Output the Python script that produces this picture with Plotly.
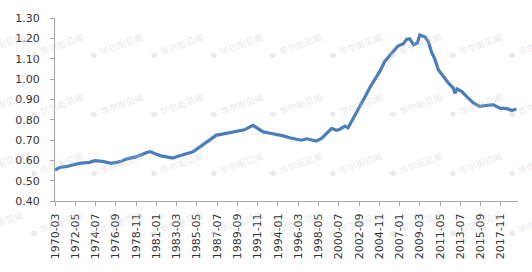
import plotly.graph_objects as go

# ---- data ----
dates = [
    "1970-03", "1970-09", "1971-06", "1972-04", "1972-10", "1973-11", "1974-06",
    "1975-04", "1976-03", "1976-10", "1977-04", "1977-10", "1978-11", "1979-12",
    "1980-05", "1981-01", "1981-07", "1982-02", "1982-10", "1983-05", "1984-01",
    "1984-12", "1985-09", "1986-07", "1987-06", "1987-12", "1989-01", "1989-10",
    "1990-06", "1991-05", "1991-11", "1992-06", "1993-03", "1993-11", "1994-08",
    "1995-04", "1996-01", "1996-07", "1997-02", "1997-08", "1998-02", "1998-09",
    "1999-03", "1999-10", "2000-04", "2000-08", "2001-03", "2001-07", "2002-02",
    "2002-10", "2003-05", "2003-11", "2004-05", "2004-12", "2005-06", "2006-01",
    "2006-07", "2006-11", "2007-06", "2007-10", "2008-02", "2008-07", "2008-12",
    "2009-03", "2009-10", "2010-02", "2010-06", "2010-10", "2011-03", "2011-09",
    "2012-04", "2012-10", "2012-12", "2013-03", "2013-09", "2014-03", "2014-12",
    "2015-08", "2016-07", "2017-01", "2017-10", "2018-07", "2019-01", "2019-07",
]
ratio = [
    0.552, 0.565, 0.570, 0.578, 0.585, 0.590, 0.598,
    0.595, 0.585, 0.590, 0.595, 0.606, 0.617, 0.637,
    0.643, 0.630, 0.622, 0.617, 0.611, 0.620, 0.630,
    0.642, 0.666, 0.692, 0.724, 0.728, 0.738, 0.744,
    0.750, 0.772, 0.757, 0.740, 0.733, 0.728, 0.720,
    0.711, 0.703, 0.699, 0.706, 0.699, 0.695, 0.708,
    0.731, 0.757, 0.748, 0.752, 0.768, 0.760, 0.809,
    0.861, 0.914, 0.958, 0.995, 1.040, 1.086, 1.117,
    1.141, 1.162, 1.173, 1.195, 1.198, 1.168, 1.178,
    1.216, 1.206, 1.182, 1.133, 1.100, 1.044, 1.011,
    0.979, 0.955, 0.930, 0.951, 0.938, 0.914, 0.881,
    0.865, 0.870, 0.874, 0.857, 0.854, 0.845, 0.852,
]
x_ticks = [
    "1970-03", "1972-05", "1974-07", "1976-09", "1978-11", "1981-01", "1983-03",
    "1985-05", "1987-07", "1989-09", "1991-11", "1994-01", "1996-03", "1998-05",
    "2000-07", "2002-09", "2004-11", "2007-01", "2009-03", "2011-05", "2013-07",
    "2015-09", "2017-11",
]
y_ticks = [0.40, 0.50, 0.60, 0.70, 0.80, 0.90, 1.00, 1.10, 1.20, 1.30]
watermark_text = "华尔街见闻"

W, H = 532, 272
ML, MR, MT, MB = 55, 14, 16, 71
PW, PH = W - ML - MR, H - MT - MB

fig = go.Figure()
fig.add_trace(go.Scatter(
    x=dates, y=ratio, mode="lines",
    line=dict(color="#4A7EBB", width=3.2),
    hoverinfo="skip", showlegend=False,
))

axis_col = "#a6a6a6"
font_col = "#333333"

fig.update_xaxes(
    type="date",
    range=["1970-03-01", "2019-09-01"],
    tickvals=x_ticks, ticktext=x_ticks, tickangle=-90,
    showgrid=False, zeroline=False,
    showline=True, linecolor=axis_col, linewidth=1,
    ticks="outside", ticklen=4, tickcolor=axis_col,
    tickfont=dict(family="DejaVu Sans", size=11, color=font_col),
    ticklabelstandoff=3,
)
fig.update_yaxes(
    range=[0.40, 1.30],
    tickvals=y_ticks, tickformat=".2f",
    showgrid=False, zeroline=False,
    showline=True, linecolor=axis_col, linewidth=1,
    ticks="outside", ticklen=4, tickcolor=axis_col,
    tickfont=dict(family="DejaVu Sans", size=11, color=font_col),
    ticklabelstandoff=8,
)

# faint watermark pattern
anns = []
wm_cols = [-26, 34, 94, 154, 214, 273, 333, 393, 453, 512]
wm_rows = [52, 112, 172, 232]
for py in wm_rows:
    for px in wm_cols:
        anns.append(dict(
            xref="paper", yref="paper",
            x=(px - ML) / PW, y=(H - MB - py) / PH,
            text="●", showarrow=False,
            font=dict(size=13, color="rgba(205,205,205,0.45)"),
            xanchor="center", yanchor="middle",
        ))
        anns.append(dict(
            xref="paper", yref="paper",
            x=(px + 27 - ML) / PW, y=(H - MB - (py - 9)) / PH,
            text=watermark_text, showarrow=False, textangle=-20,
            font=dict(family="Noto Sans CJK SC", size=9, color="rgba(200,200,200,0.45)"),
            xanchor="center", yanchor="middle",
        ))

fig.update_layout(
    width=W, height=H,
    margin=dict(l=ML, r=MR, t=MT, b=MB, pad=0),
    paper_bgcolor="white", plot_bgcolor="white",
    annotations=anns,
    showlegend=False,
)

fig.write_html("out.html")
